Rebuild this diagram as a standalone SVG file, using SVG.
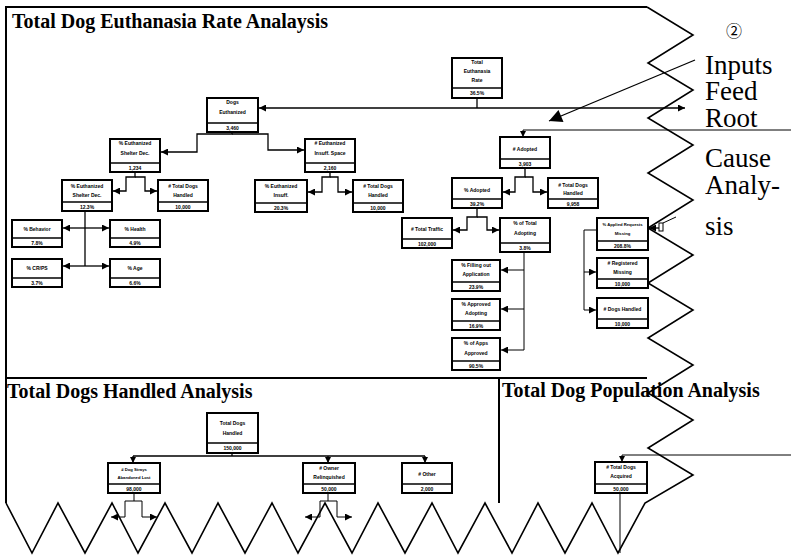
<svg xmlns="http://www.w3.org/2000/svg" width="791" height="555" viewBox="0 0 791 555">
<style>
.bg{fill:#fff}
.box{fill:#fff;stroke:#000;stroke-width:2}
.dv{stroke:#000;stroke-width:1.5}
.t{font-family:"Liberation Sans",Arial,sans-serif;font-size:5px;font-weight:bold;text-anchor:middle;fill:#000}
.ts{font-size:4.2px}
.c{fill:none;stroke:#000;stroke-width:1.3}
.thin{fill:none;stroke:#000;stroke-width:1}
.frame{fill:none;stroke:#000;stroke-width:1.6;stroke-linejoin:miter}
.border{fill:none;stroke:#000;stroke-width:2}
.title{font-family:"Liberation Serif","Times New Roman",serif;font-size:20px;font-weight:bold;fill:#000}
.side{font-family:"Liberation Serif","Times New Roman",serif;font-size:27px;fill:#000}
</style>
<defs>
<marker id="ar" viewBox="0 0 8 8" refX="8" refY="4" markerWidth="7" markerHeight="7" markerUnits="userSpaceOnUse" orient="auto"><path d="M0,0 L8,4 L0,8 z" fill="#000"/></marker>
<marker id="ars" viewBox="0 0 8 8" refX="8" refY="4" markerWidth="6" markerHeight="6" markerUnits="userSpaceOnUse" orient="auto"><path d="M0,0 L8,4 L0,8 z" fill="#000"/></marker>
<marker id="arb" viewBox="0 0 10 10" refX="10" refY="5" markerWidth="16" markerHeight="13" markerUnits="userSpaceOnUse" orient="auto"><path d="M0,0 L10,5 L0,10 z" fill="#000"/></marker>
</defs>
<rect class="bg" x="0" y="0" width="791" height="555"/>

<g id="frame">
<path class="border" d="M6,503 V7 H647"/>
<path class="frame" d="M647,7 L693,35 L648,63 L693,90 L648,118 L693,145 L648,173 L693,200 L648,228 L693,255 L648,283 L693,310 L648,338 L693,365 L648,393 L693,420 L648,448 L693,475 L645,503 L618,553 L592,503 L565,553 L538,503 L512,553 L485,503 L458,553 L432,503 L405,553 L378,503 L352,553 L325,503 L298,553 L272,503 L245,553 L218,503 L192,553 L165,503 L138,553 L112,503 L85,553 L58,503 L32,553 L6,503"/>
<path class="border" d="M6,378 H647 M499,378 V503"/>
</g>

<g id="titles">
<text class="title" x="12" y="28">Total Dog Euthanasia Rate Analaysis</text>
<text class="title" x="7" y="398">Total Dogs Handled Analysis</text>
<text class="title" x="502" y="397">Total Dog Population Analysis</text>
</g>

<g id="note">
<text x="734" y="37" style="font-family:'Noto Sans CJK JP','DejaVu Sans',sans-serif;font-size:16px;text-anchor:middle">②</text>
<text class="side" x="705" y="74">Inputs</text>
<text class="side" x="705" y="100">Feed</text>
<text class="side" x="705" y="127">Root</text>
<text class="side" x="705" y="167">Cause</text>
<text class="side" x="705" y="194">Analy-</text>
<text class="side" x="705" y="235">sis</text>
</g>

<g id="connectors">
<path class="c" d="M477,98 V108"/>
<path class="c" d="M477,108 H259" marker-end="url(#ar)"/>
<path class="c" d="M477,108 H685" marker-end="url(#ar)"/>
<path class="c" d="M695,60 L549,121" marker-end="url(#arb)"/>
<path class="thin" d="M791,130 H523 V137" marker-end="url(#ars)"/>
<path class="thin" d="M791,455 H622 V462" marker-end="url(#ars)"/>
<path class="thin" d="M620,493 V553"/>
<path class="c" d="M232,132 V134 H197 V152 H161" marker-end="url(#ar)"/>
<path class="c" d="M232,134 H268 V150 H304" marker-end="url(#ar)"/>
<path class="c" d="M135,172 V177 H126 V191 H113" marker-end="url(#ar)"/>
<path class="c" d="M135,177 H145 V191 H157" marker-end="url(#ar)"/>
<path class="c" d="M330,172 V177 H322 V192 H308" marker-end="url(#ar)"/>
<path class="c" d="M330,177 H338 V192 H352" marker-end="url(#ar)"/>
<path class="c" d="M85,211 V266"/>
<path class="c" d="M85,228 H63" marker-end="url(#ar)"/>
<path class="c" d="M85,228 H109" marker-end="url(#ar)"/>
<path class="c" d="M85,266 H63" marker-end="url(#ar)"/>
<path class="c" d="M85,266 H109" marker-end="url(#ar)"/>
<path class="c" d="M525,168 V177 H515 V192 H503" marker-end="url(#ar)"/>
<path class="c" d="M525,177 H533 V192 H547" marker-end="url(#ar)"/>
<path class="c" d="M477,208 V217 H467 V230 H453" marker-end="url(#ar)"/>
<path class="c" d="M477,217 H487 V230 H499" marker-end="url(#ar)"/>
<path class="thin" d="M524,252 V350"/>
<path class="thin" d="M524,270 H501" marker-end="url(#ar)"/>
<path class="thin" d="M524,309 H501" marker-end="url(#ar)"/>
<path class="thin" d="M524,350 H501" marker-end="url(#ar)"/>
<path class="thin" d="M597,230 H584 V310 H596" marker-end="url(#ar)"/>
<path class="thin" d="M584,272 H596" marker-end="url(#ar)"/>
<path class="thin" d="M676,217 L663,223"/>
<rect class="thin" x="659" y="223" width="4" height="8"/>
<path class="c" d="M659,228 H649" marker-end="url(#ar)"/>
<path class="c" d="M232,453 V456 M133,456 H425"/>
<path class="c" d="M133,456 V463" marker-end="url(#ars)"/>
<path class="c" d="M328,456 V463" marker-end="url(#ars)"/>
<path class="c" d="M425,456 V463" marker-end="url(#ars)"/>
<path class="thin" d="M134,493 V501 H125 V517 H111" marker-end="url(#ar)"/>
<path class="thin" d="M134,501 H142 V517 H157" marker-end="url(#ar)"/>
<path class="thin" d="M328,493 V501 H320 V517 H305" marker-end="url(#ar)"/>
<path class="thin" d="M328,501 H337 V517 H352" marker-end="url(#ar)"/>
</g>

<g id="n_rate"><rect class="box" x="452" y="58" width="50" height="40"/><line class="dv" x1="452" y1="88" x2="502" y2="88"/>
<text class="t" x="477" y="64">Total</text><text class="t" x="477" y="73">Euthanasia</text><text class="t" x="477" y="82">Rate</text><text class="t" x="477" y="95">36.5%</text></g>

<g id="n_euth"><rect class="box" x="207" y="98" width="51" height="34"/><line class="dv" x1="207" y1="123" x2="258" y2="123"/>
<text class="t" x="232.5" y="104">Dogs</text><text class="t" x="232.5" y="114">Euthanized</text><text class="t" x="232.5" y="130">3,460</text></g>

<g id="n_shelter"><rect class="box" x="110" y="139" width="50" height="33"/><line class="dv" x1="110" y1="163" x2="160" y2="163"/>
<text class="t" x="135" y="145">% Euthanized</text><text class="t" x="135" y="155">Shelter Dec.</text><text class="t" x="135" y="170">1,234</text></g>

<g id="n_insuff"><rect class="box" x="305" y="139" width="50" height="33"/><line class="dv" x1="305" y1="163" x2="355" y2="163"/>
<text class="t" x="330" y="145"># Euthanized</text><text class="t" x="330" y="155">Insuff. Space</text><text class="t" x="330" y="170">2,160</text></g>

<g id="n_pct_shelter"><rect class="box" x="62" y="180" width="50" height="31"/><line class="dv" x1="62" y1="202" x2="112" y2="202"/>
<text class="t" x="87" y="188">% Euthanized</text><text class="t" x="87" y="197">Shelter Dec.</text><text class="t" x="87" y="209">12.3%</text></g>

<g id="n_handled1"><rect class="box" x="158" y="180" width="50" height="31"/><line class="dv" x1="158" y1="202" x2="208" y2="202"/>
<text class="t" x="183" y="188"># Total Dogs</text><text class="t" x="183" y="197">Handled</text><text class="t" x="183" y="209">10,000</text></g>

<g id="n_pct_insuff"><rect class="box" x="255" y="180" width="52" height="32"/><line class="dv" x1="255" y1="203" x2="307" y2="203"/>
<text class="t" x="281" y="188">% Euthanized</text><text class="t" x="281" y="197">Insuff.</text><text class="t" x="281" y="210">20.3%</text></g>

<g id="n_handled2"><rect class="box" x="353" y="180" width="50" height="32"/><line class="dv" x1="353" y1="203" x2="403" y2="203"/>
<text class="t" x="378" y="188"># Total Dogs</text><text class="t" x="378" y="197">Handled</text><text class="t" x="378" y="210">10,000</text></g>

<g id="n_behavior"><rect class="box" x="12" y="220" width="50" height="27"/><line class="dv" x1="12" y1="238" x2="62" y2="238"/>
<text class="t" x="37" y="231">% Behavior</text><text class="t" x="37" y="245">7.8%</text></g>

<g id="n_health"><rect class="box" x="110" y="220" width="50" height="27"/><line class="dv" x1="110" y1="238" x2="160" y2="238"/>
<text class="t" x="135" y="231">% Health</text><text class="t" x="135" y="245">4.9%</text></g>

<g id="n_crps"><rect class="box" x="12" y="259" width="50" height="28"/><line class="dv" x1="12" y1="278" x2="62" y2="278"/>
<text class="t" x="37" y="270">% CR/PS</text><text class="t" x="37" y="285">3.7%</text></g>

<g id="n_age"><rect class="box" x="110" y="259" width="50" height="28"/><line class="dv" x1="110" y1="278" x2="160" y2="278"/>
<text class="t" x="135" y="270">% Age</text><text class="t" x="135" y="285">6.6%</text></g>

<g id="n_adopted"><rect class="box" x="500" y="137" width="50" height="31"/><line class="dv" x1="500" y1="159" x2="550" y2="159"/>
<text class="t" x="525" y="151"># Adopted</text><text class="t" x="525" y="166">3,903</text></g>

<g id="n_pct_adopted"><rect class="box" x="452" y="178" width="50" height="30"/><line class="dv" x1="452" y1="199" x2="502" y2="199"/>
<text class="t" x="477" y="192">% Adopted</text><text class="t" x="477" y="206">39.2%</text></g>

<g id="n_handled3"><rect class="box" x="548" y="178" width="50" height="30"/><line class="dv" x1="548" y1="199" x2="598" y2="199"/>
<text class="t" x="573" y="187"># Total Dogs</text><text class="t" x="573" y="195">Handled</text><text class="t" x="573" y="206">9,958</text></g>

<g id="n_traffic"><rect class="box" x="402" y="218" width="50" height="30"/><line class="dv" x1="402" y1="239" x2="452" y2="239"/>
<text class="t" x="427" y="231"># Total Traffic</text><text class="t" x="427" y="246">102,000</text></g>

<g id="n_pct_total"><rect class="box" x="500" y="218" width="50" height="34"/><line class="dv" x1="500" y1="243" x2="550" y2="243"/>
<text class="t" x="525" y="225">% of Total</text><text class="t" x="525" y="235">Adopting</text><text class="t" x="525" y="250">3.8%</text></g>

<g id="n_filling"><rect class="box" x="452" y="260" width="48" height="31"/><line class="dv" x1="452" y1="282" x2="500" y2="282"/>
<text class="t" x="476" y="267">% Filling out</text><text class="t" x="476" y="276">Application</text><text class="t" x="476" y="289">23.9%</text></g>

<g id="n_approved"><rect class="box" x="452" y="299" width="48" height="31"/><line class="dv" x1="452" y1="321" x2="500" y2="321"/>
<text class="t" x="476" y="306">% Approved</text><text class="t" x="476" y="315">Adopting</text><text class="t" x="476" y="328">16.9%</text></g>

<g id="n_apps"><rect class="box" x="452" y="338" width="48" height="32"/><line class="dv" x1="452" y1="361" x2="500" y2="361"/>
<text class="t" x="476" y="345">% of Apps</text><text class="t" x="476" y="355">Approved</text><text class="t" x="476" y="368">90.5%</text></g>

<g id="n_missing"><rect class="box" x="597" y="218" width="51" height="32"/><line class="dv" x1="597" y1="241" x2="648" y2="241"/>
<text class="t ts" x="622.5" y="226">% Applied Requests</text><text class="t ts" x="622.5" y="235">Missing</text><text class="t" x="622.5" y="248">208.8%</text></g>

<g id="n_registered"><rect class="box" x="597" y="258" width="51" height="30"/><line class="dv" x1="597" y1="279" x2="648" y2="279"/>
<text class="t" x="622.5" y="265"># Registered</text><text class="t" x="622.5" y="274">Missing</text><text class="t" x="622.5" y="286">10,000</text></g>

<g id="n_dogs_handled"><rect class="box" x="597" y="298" width="51" height="30"/><line class="dv" x1="597" y1="319" x2="648" y2="319"/>
<text class="t" x="622.5" y="311"># Dogs Handled</text><text class="t" x="622.5" y="326">10,000</text></g>

<g id="n_total_handled"><rect class="box" x="207" y="413" width="51" height="40"/><line class="dv" x1="207" y1="443" x2="258" y2="443"/>
<text class="t" x="232.5" y="425">Total Dogs</text><text class="t" x="232.5" y="435">Handled</text><text class="t" x="232.5" y="450">150,000</text></g>

<g id="n_strays"><rect class="box" x="108" y="463" width="52" height="30"/><line class="dv" x1="108" y1="484" x2="160" y2="484"/>
<text class="t ts" x="134" y="471"># Dog Strays</text><text class="t ts" x="134" y="479">Abandoned Lost</text><text class="t" x="134" y="491">98,000</text></g>

<g id="n_owner"><rect class="box" x="303" y="463" width="52" height="30"/><line class="dv" x1="303" y1="484" x2="355" y2="484"/>
<text class="t" x="329" y="470"># Owner</text><text class="t" x="329" y="479">Relinquished</text><text class="t" x="329" y="491">50,000</text></g>

<g id="n_other"><rect class="box" x="402" y="463" width="50" height="30"/><line class="dv" x1="402" y1="484" x2="452" y2="484"/>
<text class="t" x="427" y="476"># Other</text><text class="t" x="427" y="491">2,000</text></g>

<g id="n_acquired"><rect class="box" x="595" y="462" width="52" height="31"/><line class="dv" x1="595" y1="484" x2="647" y2="484"/>
<text class="t" x="621" y="469"># Total Dogs</text><text class="t" x="621" y="478">Acquired</text><text class="t" x="621" y="491">50,000</text></g>
</svg>
